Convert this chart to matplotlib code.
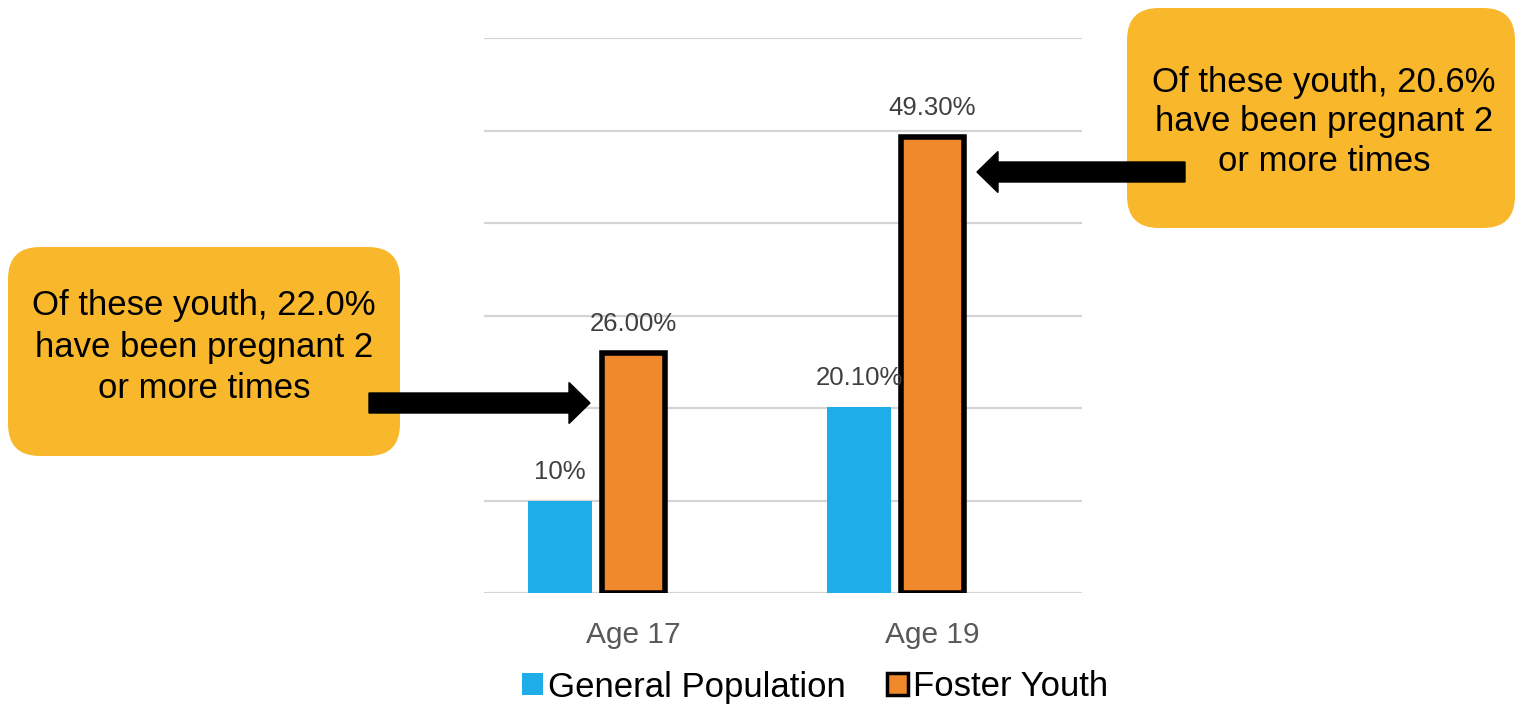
import numpy as np
import matplotlib
matplotlib.use("Agg")
import matplotlib.pyplot as plt
from matplotlib.patches import FancyBboxPatch, FancyArrow, Patch

plt.rcParams['font.family'] = ['Liberation Sans', 'DejaVu Sans']

# data
categories = ['Age 17', 'Age 19']
general_pop = [10.0, 20.1]
foster_youth = [26.0, 49.3]
general_labels = ['10%', '20.10%']
foster_labels = ['26.00%', '49.30%']
callout_left = 'Of these youth, 22.0%\nhave been pregnant 2\nor more times'
callout_right = 'Of these youth, 20.6%\nhave been pregnant 2\nor more times'

W, H = 1517, 706
fig = plt.figure(figsize=(W / 100, H / 100), dpi=100)
fig.patch.set_facecolor('white')
ax = fig.add_axes([484 / W, 1 - 593 / H, 598 / W, 555 / H])

blue = '#1FADE9'
orange = '#F0892B'
x = np.arange(len(categories))
bw = 0.214

b1 = ax.bar(x - 0.246, general_pop, bw, color=blue, zorder=3)
b2 = ax.bar(x, foster_youth, bw, color=orange, edgecolor='black', linewidth=4, zorder=3)

for bars, labels in [(b1, general_labels), (b2, foster_labels)]:
    for rect, lab in zip(bars, labels):
        ax.annotate(lab, (rect.get_x() + rect.get_width() / 2, rect.get_height()),
                    xytext=(0, 12), textcoords='offset points', ha='center', va='bottom',
                    fontsize=18.5, color='#404040', zorder=4)

ax.set_xlim(-0.5, 1.5)
ax.set_ylim(0, 60)
ax.set_yticks(np.arange(0, 61, 10))
ax.yaxis.grid(True, color='#d4d4d4', lw=1.6, zorder=0)
ax.tick_params(axis='y', left=False, labelleft=False)
ax.set_xticks(x)
ax.set_xticklabels(categories, fontsize=21.5, color='#595959')
ax.tick_params(axis='x', bottom=False, pad=17)
for s in ax.spines.values():
    s.set_visible(False)

# legend
handles = [Patch(facecolor=blue, edgecolor='none'),
           Patch(facecolor=orange, edgecolor='black', linewidth=2.5)]
fig.legend(handles, ['General Population', 'Foster Youth'], loc='center',
           bbox_to_anchor=(815 / W, 1 - 687 / H), ncol=2, frameon=False, fontsize=25,
           handlelength=0.6, handleheight=0.6, handletextpad=0.15, columnspacing=1.2)

# callouts (pixel coords -> inches)
tr = fig.dpi_scale_trans
def px(xp, yp):
    return xp / 100, (H - yp) / 100

gold = '#F9B82C'
for (x0, y0, x1, y1), txt, (tx, ty), ls in [((8, 247, 400, 456), callout_left, (204, 347), 1.33),
                                             ((1127, 8, 1515, 228), callout_right, (1324, 122), 1.25)]:
    bx, by = px(x0, y1)
    box = FancyBboxPatch((bx, by), (x1 - x0) / 100, (y1 - y0) / 100,
                         boxstyle='round,pad=0,rounding_size=0.32',
                         facecolor=gold, edgecolor='none', transform=tr, zorder=5)
    fig.add_artist(box)
    fx, fy = px(tx, ty)
    fig.text(fx, fy, txt, transform=tr, ha='center', va='center', fontsize=25,
             color='black', linespacing=ls, zorder=6)

for tail, tip, yy in [(369, 590, 403), (1185, 977, 172)]:
    sx, sy = px(tail, yy)
    ex, _ = px(tip, yy)
    arr = FancyArrow(sx, sy, ex - sx, 0, width=0.20, head_width=0.41, head_length=0.21,
                     length_includes_head=True, color='black', transform=tr, zorder=7)
    fig.add_artist(arr)

plt.savefig('out.png', dpi=100, facecolor=fig.get_facecolor())
plt.close()
